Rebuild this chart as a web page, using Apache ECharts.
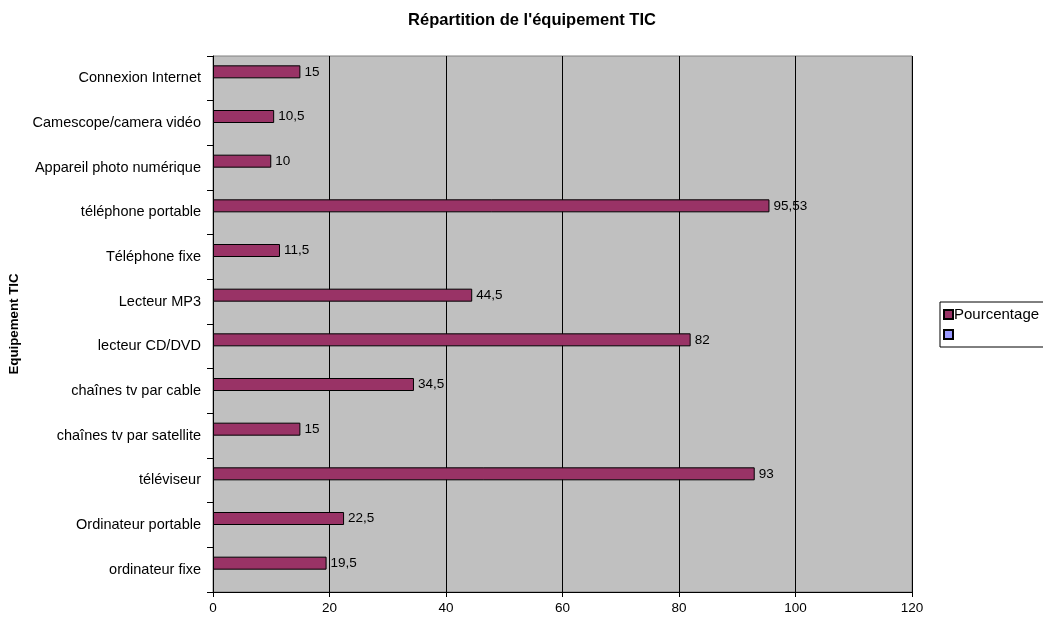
<!DOCTYPE html>
<html>
<head>
<meta charset="utf-8">
<script src="https://cdn.jsdelivr.net/npm/echarts@6/dist/echarts.min.js"></script>
<style>
  html, body { margin: 0; padding: 0; background: #fff; }
  #chart { width: 1043px; height: 620px; }
</style>
</head>
<body>
<div id="chart"></div>
<script>
// Equipment categories, listed bottom to top
const categories = [
  'ordinateur fixe',
  'Ordinateur portable',
  'téléviseur',
  'chaînes tv par satellite',
  'chaînes tv par cable',
  'lecteur CD/DVD',
  'Lecteur MP3',
  'Téléphone fixe',
  'téléphone portable',
  'Appareil photo numérique',
  'Camescope/camera vidéo',
  'Connexion Internet'
];
// Share of households equipped (%)
const pourcentage = [19.5, 22.5, 93, 15, 34.5, 82, 44.5, 11.5, 95.53, 10, 10.5, 15];
// Second, empty series shown in the legend
const secondSeries = categories.map(() => null);
const xTicks = [0, 20, 40, 60, 80, 100, 120];

const font = 'Arial, "Liberation Sans", Helvetica, sans-serif';
const chart = echarts.init(document.getElementById('chart'));

chart.setOption({
  animation: false,
  backgroundColor: '#ffffff',
  textStyle: { fontFamily: font },
  title: {
    text: "Répartition de l'équipement TIC",
    left: 527,
    top: 7,
    textAlign: 'center',
    textStyle: { fontSize: 16.5, fontWeight: 'bold', color: '#000', fontFamily: font }
  },
  legend: {
    orient: 'vertical',
    left: 940,
    top: 302,
    padding: [5, 30, 5, 3],
    itemGap: 5,
    itemWidth: 9,
    itemHeight: 9,
    borderColor: '#000',
    borderWidth: 1,
    borderRadius: 0,
    icon: 'rect',
    data: ['Pourcentage', ' '],
    textStyle: { fontSize: 15, color: '#000', fontFamily: font, padding: [0, 0, 0, -4] }
  },
  grid: {
    left: 212,
    top: 56,
    width: 700,
    height: 536,
    show: true,
    backgroundColor: '#C0C0C0',
    borderColor: '#808080',
    borderWidth: 1
  },
  xAxis: {
    type: 'value',
    min: xTicks[0],
    max: xTicks[xTicks.length - 1],
    interval: 20,
    axisLine: { show: true, lineStyle: { color: '#000', width: 1 } },
    axisTick: { show: true, length: 5, lineStyle: { color: '#000' } },
    axisLabel: { color: '#000', fontSize: 13.5, margin: 9, fontFamily: font },
    splitLine: { show: true, lineStyle: { color: '#000', width: 1 } }
  },
  yAxis: {
    type: 'category',
    data: categories,
    name: 'Equipement TIC',
    nameLocation: 'middle',
    nameGap: 192,
    nameRotate: 90,
    nameTextStyle: { fontSize: 13.3, fontWeight: 'bold', color: '#000', fontFamily: font },
    axisLine: { show: true, lineStyle: { color: '#000', width: 1 } },
    axisTick: { show: true, length: 6, alignWithLabel: false, lineStyle: { color: '#000' } },
    axisLabel: { color: '#000', fontSize: 14.5, margin: 12, fontFamily: font },
    splitLine: { show: false }
  },
  series: [
    {
      name: 'Pourcentage',
      type: 'bar',
      data: pourcentage,
      barWidth: 13,
      barGap: '0%',
      itemStyle: { color: '#993366', borderColor: '#000', borderWidth: 1 },
      label: {
        show: true,
        position: 'right',
        distance: 4,
        color: '#000',
        fontSize: 13.5,
        fontFamily: font,
        formatter: p => String(p.value).replace('.', ',')
      }
    },
    {
      name: ' ',
      type: 'bar',
      data: secondSeries,
      barWidth: 13,
      barGap: '0%',
      itemStyle: { color: '#9999FF', borderColor: '#000', borderWidth: 1 }
    }
  ]
});
</script>
</body>
</html>
